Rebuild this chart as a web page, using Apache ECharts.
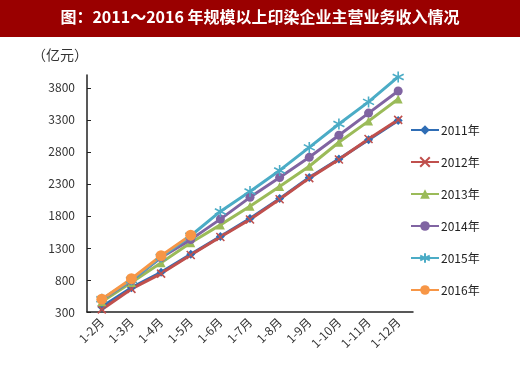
<!DOCTYPE html>
<html><head><meta charset="utf-8">
<script src="https://cdn.jsdelivr.net/npm/echarts@6/dist/echarts.min.js"></script>
<style>html,body{margin:0;padding:0;background:#fff}#c{width:520px;height:386px}</style>
</head><body><div id="c"></div>
<script>
var categories = ['1-2月','1-3月','1-4月','1-5月','1-6月','1-7月','1-8月','1-9月','1-10月','1-11月','1-12月'];
var y2011 = [380, 680, 920, 1200, 1480, 1760, 2070, 2400, 2690, 2990, 3290];
var y2012 = [340, 660, 900, 1190, 1470, 1745, 2060, 2390, 2680, 3000, 3300];
var y2013 = [460, 760, 1070, 1380, 1660, 1950, 2260, 2575, 2950, 3280, 3625];
var y2014 = [490, 790, 1150, 1430, 1750, 2090, 2400, 2715, 3060, 3405, 3750];
var y2015 = [500, 800, 1160, 1490, 1870, 2180, 2510, 2870, 3235, 3580, 3970];
var y2016 = [500, 820, 1180, 1500];
var seriesNames = ['2011年','2012年','2013年','2014年','2015年','2016年'];
var titleText = '图：2011～2016 年规模以上印染企业主营业务收入情况';
var unitText = '（亿元）';

var colors = ['#2f6db5','#c0504d','#9bbb59','#8064a2','#4bacc6','#f79646'];
var symbols = ['diamond','path://M0,0L10,10M10,0L0,10','triangle','circle','path://M5,0L5,10M0,2.5L10,7.5M0,7.5L10,2.5','circle'];
var sizes = [9, 8, 9, 9, 11, 11];
var datas = [y2011, y2012, y2013, y2014, y2015, y2016];

var chart = echarts.init(document.getElementById('c'));
var series = datas.map(function(d, i){
  var stroke = (i === 1 || i === 4);
  return {
    name: seriesNames[i], type: 'line', data: d,
    symbol: symbols[i], symbolSize: sizes[i],
    lineStyle: {color: colors[i], width: 3},
    itemStyle: {color: colors[i], borderColor: colors[i], borderWidth: stroke ? 1.6 : 0},
    emphasis: {disabled: true}
  };
});
chart.setOption({
  animation: false,
  textStyle: {fontFamily: '"Noto Sans CJK SC", "Noto Sans", sans-serif'},
  graphic: [
    {type: 'rect', shape: {x: 0, y: 0, width: 520, height: 37}, style: {fill: '#9a0000'}},
    {type: 'text', left: 'center', top: 9, style: {text: titleText, fill: '#fff', font: 'bold 16px "Noto Sans CJK SC", sans-serif'}},
    {type: 'text', left: 32, top: 48, style: {text: unitText, fill: '#333', font: '14px "Noto Sans CJK SC", sans-serif'}}
  ],
  grid: {left: 87, right: 107, top: 75, bottom: 74},
  legend: {
    orient: 'vertical', left: 405, top: 119, itemWidth: 28, itemHeight: 12, itemGap: 20,
    textStyle: {fontSize: 12, color: '#222', padding: [0,0,0,-3]},
    data: seriesNames
  },
  xAxis: {
    type: 'category', data: categories, boundaryGap: true,
    axisLine: {lineStyle: {color: '#222', width: 1.5}},
    axisTick: {inside: true, length: 4, lineStyle: {color: '#222'}},
    axisLabel: {rotate: 45, fontSize: 12, color: '#333', margin: 8, interval: 0}
  },
  yAxis: {
    type: 'value', min: 300, max: 4000, interval: 500,
    splitLine: {show: false},
    axisLine: {show: true, lineStyle: {color: '#222', width: 1.5}},
    axisTick: {show: true, inside: true, length: 4, lineStyle: {color: '#222'}},
    axisLabel: {fontSize: 12, color: '#333', margin: 12, showMaxLabel: false, formatter: function(v){ return String(v); }}
  },
  series: series
});
</script></body></html>
